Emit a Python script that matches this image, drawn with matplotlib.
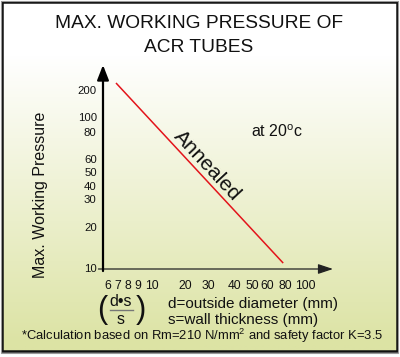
import matplotlib
matplotlib.use('Agg')
import matplotlib.pyplot as plt
import numpy as np
from matplotlib.patches import Rectangle

plt.rcParams['font.family'] = ['Liberation Sans', 'DejaVu Sans']
plt.rcParams['mathtext.fontset'] = 'custom'
plt.rcParams['mathtext.rm'] = 'Liberation Sans'

# chart data
x_ticks = [6, 7, 8, 9, 10, 20, 30, 40, 50, 60, 80, 100]          # d/s
y_ticks = [10, 20, 30, 40, 50, 60, 80, 100, 200]                # pressure
annealed_ds = [6.8, 78]
annealed_pressure = [226, 11.2]

W, H = 400, 357
# where the (non uniform) tick marks sit on the drawing, in pixels
x_tick_px = [108, 118, 128, 138, 152, 185, 208, 235, 252, 267, 285, 305]
y_tick_px = [268, 227, 199, 186, 172, 159, 132, 117, 90]


def make_map(vals, pos):
    vals = np.asarray(vals, float)
    pos = np.asarray(pos, float)

    def interp(v, a, b):
        v = np.asarray(v, float)
        out = np.interp(v, a, b)
        lo = (b[1] - b[0]) / (a[1] - a[0])
        hi = (b[-1] - b[-2]) / (a[-1] - a[-2])
        out = np.where(v < a[0], b[0] + (v - a[0]) * lo, out)
        out = np.where(v > a[-1], b[-1] + (v - a[-1]) * hi, out)
        return out

    return (lambda v: interp(v, vals, pos)), (lambda p: interp(p, pos, vals))


fx, ix = make_map(x_ticks, x_tick_px)
fy, iy = make_map(y_ticks, [H - p for p in y_tick_px])

fig = plt.figure(figsize=(W / 100, H / 100), dpi=100)
fig.patch.set_facecolor('white')

# background gradient + frame
bg = fig.add_axes([0, 0, 1, 1])
bg.set_xlim(0, W)
bg.set_ylim(H, 0)
bg.axis('off')
top = np.array([1.0, 1.0, 1.0])
bot = np.array([220, 227, 164]) / 255
ys = np.linspace(0, 1, 300)
t = np.clip((ys * H - 55) / (350 - 55), 0, 1)
grad = top[None, :] * (1 - t[:, None]) + bot[None, :] * t[:, None]
bg.imshow(grad[:, None, :], extent=[2, 397, 351, 2], aspect='auto', zorder=0)
bg.add_patch(Rectangle((2, 2), 395, 349, fill=False, edgecolor='#111111', lw=1.8, zorder=2))
bg.add_patch(Rectangle((0.6, 0.6), 397.8, 352, fill=False, edgecolor='#999999', lw=0.8, zorder=2))

ax_l, ax_r, ax_b, ax_t = 103, 333, 269, 65
ax = fig.add_axes([ax_l / W, 1 - ax_b / H, (ax_r - ax_l) / W, (ax_b - ax_t) / H])
ax.set_facecolor('none')
ax.set_xscale('function', functions=(fx, ix))
ax.set_yscale('function', functions=(fy, iy))
ax.set_xlim(float(ix(ax_l)), float(ix(ax_r)))
ax.set_ylim(float(iy(H - ax_b)), float(iy(H - ax_t)))
for s in ax.spines.values():
    s.set_visible(False)

ax.set_xticks(x_ticks, [str(v) for v in x_ticks])
ax.set_yticks(y_ticks, [str(v) for v in y_ticks])
ax.minorticks_off()
ax.tick_params(axis='x', length=0, pad=8, labelsize=8.7, colors='#111111')
ax.tick_params(axis='y', length=0, pad=4.5, labelsize=8.2, colors='#111111')

ax.plot(annealed_ds, annealed_pressure, color='#e3141b', lw=1.1, solid_capstyle='butt')

# axes with arrow heads
ax.annotate('', xy=(1, 0), xytext=(-0.02, 0), xycoords='axes fraction',
            arrowprops=dict(arrowstyle='-|>,head_length=0.9,head_width=0.3', color='#222222', lw=0.9,
                            shrinkA=0, shrinkB=0))
ax.annotate('', xy=(0, 1), xytext=(0, -0.01), xycoords='axes fraction',
            arrowprops=dict(arrowstyle='-|>,head_length=0.9,head_width=0.35', color='black', lw=1.6,
                            shrinkA=0, shrinkB=0))


def px(x, y):
    return x / W, 1 - y / H


fig.text(*px(199, 23), 'MAX. WORKING PRESSURE OF', ha='center', va='center', fontsize=13.8, color='#111111')
fig.text(*px(199, 48), 'ACR TUBES', ha='center', va='center', fontsize=13.8, color='#111111')
fig.text(*px(41, 195), 'Max. Working Pressure', ha='center', va='center', rotation=90, fontsize=11.5, color='#111111')
fig.text(*px(207, 166), 'Annealed', ha='center', va='center', rotation=-47, rotation_mode='anchor',
         fontsize=15, color='#111111')
fig.text(*px(277, 132), 'at 20$^{\\mathrm{o}}$c', ha='center', va='center', fontsize=11.5, color='#111111')

fig.text(*px(102, 310), '(', ha='center', va='center', fontsize=22, color='#111111')
fig.text(*px(141, 310), ')', ha='center', va='center', fontsize=22, color='#111111')
fig.text(*px(121, 301), 'd\u2022s', ha='center', va='center', fontsize=11.5, color='#111111')
fig.text(*px(121, 319), 's', ha='center', va='center', fontsize=11.5, color='#111111')
bg.plot([110, 133], [310, 310], color='#777777', lw=1.0)

fig.text(*px(168, 304), 'd=outside diameter (mm)', ha='left', va='center', fontsize=11, color='#111111')
fig.text(*px(168, 320), 's=wall thickness (mm)', ha='left', va='center', fontsize=11, color='#111111')
fig.text(*px(202, 336), '*Calculation based on Rm=210 N/mm$^2$ and safety factor K=3.5',
         ha='center', va='center', fontsize=9.4, color='#111111')

fig.savefig('out.png', dpi=100)
